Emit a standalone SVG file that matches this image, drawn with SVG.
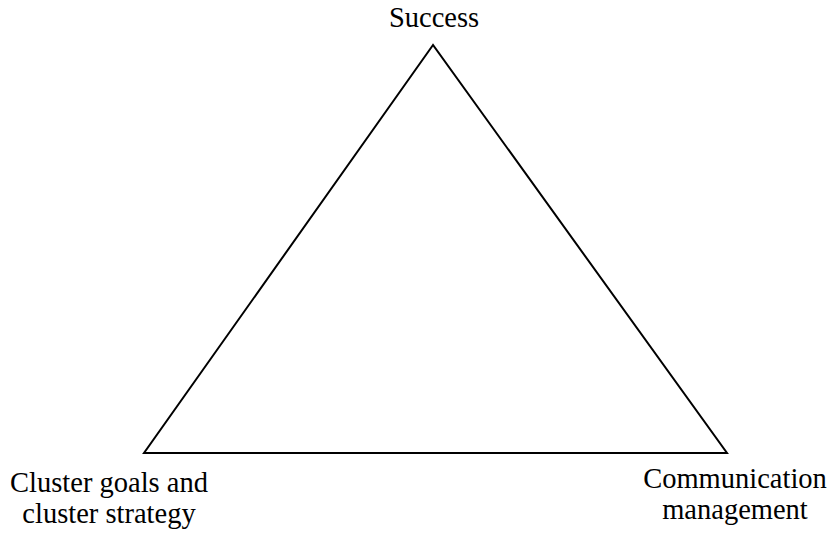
<svg xmlns="http://www.w3.org/2000/svg" width="833" height="534" viewBox="0 0 833 534">
  <style>
    .lbl { font-family: 'Liberation Serif', 'DejaVu Serif', serif; font-size: 28.5px; fill: #000; text-anchor: middle; }
    .edge { fill: none; stroke: #000; stroke-width: 2; stroke-linejoin: miter; }
  </style>
  <rect width="833" height="534" fill="#fff"/>
  <g id="connectors">
    <polygon class="edge" points="433,45 144,453 727,453"/>
  </g>
  <g id="success">
    <text class="lbl" x="434" y="27" font-family="Liberation Serif, DejaVu Serif, serif">Success</text>
  </g>
  <g id="cluster-goals">
    <text class="lbl" x="109" y="492" font-family="Liberation Serif, DejaVu Serif, serif">Cluster goals and</text>
    <text class="lbl" x="109" y="523" font-family="Liberation Serif, DejaVu Serif, serif">cluster strategy</text>
  </g>
  <g id="communication">
    <text class="lbl" x="735" y="488" font-family="Liberation Serif, DejaVu Serif, serif">Communication</text>
    <text class="lbl" x="735" y="519" font-family="Liberation Serif, DejaVu Serif, serif">management</text>
  </g>
</svg>
